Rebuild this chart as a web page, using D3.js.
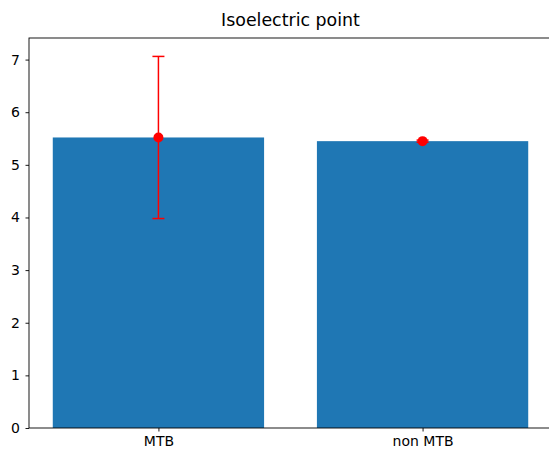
<!DOCTYPE html>
<html>
<head>
<meta charset="utf-8">
<script src="https://d3js.org/d3.v7.min.js"></script>
<style>
  body { margin: 0; background: #fff; }
  svg { font-family: "DejaVu Sans", sans-serif; }
</style>
</head>
<body>
<svg id="chart" width="549" height="458"></svg>
<script>
// data
const categories = ["MTB", "non MTB"];
const means = [5.52, 5.45];
const errors = [1.54, 0.02];
const yTicks = [0, 1, 2, 3, 4, 5, 6, 7];
const chartTitle = "Isoelectric point";

const svg = d3.select("#chart");
const margin = { left: 29, top: 38, right: 552, bottom: 428 };

// x: bars centered on 0 and 1, width 0.8, like matplotlib defaults
const x = d3.scaleLinear().domain([-0.49, 1.49]).range([margin.left, margin.right]);
const y = d3.scaleLinear().domain([0, 7.41]).range([margin.bottom, margin.top]);
const barW = 0.8;

// bars
svg.append("g").selectAll("rect")
    .data(means)
    .enter().append("rect")
    .attr("x", (d, i) => x(i - barW / 2))
    .attr("width", x(barW) - x(0))
    .attr("y", d => y(d))
    .attr("height", d => y(0) - y(d))
    .attr("fill", "#1f77b4");

// error bars
const eb = svg.append("g").attr("stroke", "red").attr("stroke-width", 1.5);
means.forEach((m, i) => {
    const cx = x(i);
    eb.append("line")
        .attr("x1", cx).attr("x2", cx)
        .attr("y1", y(m - errors[i])).attr("y2", y(m + errors[i]));
    [m - errors[i], m + errors[i]].forEach(v => {
        eb.append("line")
            .attr("x1", cx - 6).attr("x2", cx + 6)
            .attr("y1", y(v)).attr("y2", y(v));
    });
});
svg.append("g").selectAll("circle")
    .data(means)
    .enter().append("circle")
    .attr("cx", (d, i) => x(i))
    .attr("cy", d => y(d))
    .attr("r", 5)
    .attr("fill", "red");

// axes
const yAxis = d3.axisLeft(y).tickValues(yTicks).tickSize(3.5).tickPadding(5.5).tickFormat(d3.format("d"));
const gy = svg.append("g").attr("transform", `translate(${margin.left},0)`).call(yAxis);
const xAxis = d3.axisBottom(x).tickValues([0, 1]).tickSize(3.5).tickPadding(5).tickFormat(i => categories[i]);
const gx = svg.append("g").attr("transform", `translate(0,${margin.bottom})`).call(xAxis);
[gx, gy].forEach(g => {
    g.select(".domain").remove();
    g.selectAll("text").attr("font-size", 14).attr("fill", "#000").attr("font-family", "DejaVu Sans");
    g.selectAll("line").attr("stroke", "#000").attr("stroke-width", 0.9);
});

// frame
svg.append("rect")
    .attr("x", margin.left).attr("y", margin.top)
    .attr("width", margin.right - margin.left).attr("height", margin.bottom - margin.top)
    .attr("fill", "none").attr("stroke", "#000").attr("stroke-width", 0.9);

// title
svg.append("text")
    .attr("x", (margin.left + margin.right) / 2)
    .attr("y", 26)
    .attr("text-anchor", "middle")
    .attr("font-size", 17.4)
    .text(chartTitle);
</script>
</body>
</html>
